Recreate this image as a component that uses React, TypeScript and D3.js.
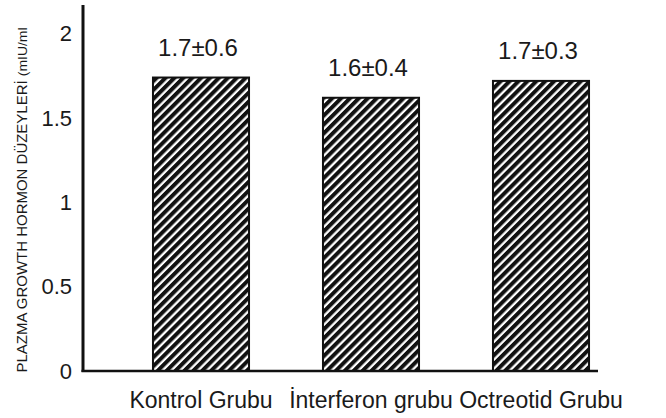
import React from 'react';
import * as d3 from 'd3';

const categories = ['Kontrol Grubu', 'İnterferon grubu', 'Octreotid Grubu'];
const values = [1.74, 1.62, 1.72];
const valueLabels = ['1.7±0.6', '1.6±0.4', '1.7±0.3'];
const yTicks = [0, 0.5, 1, 1.5, 2];
const yTitle = 'PLAZMA GROWTH HORMON DÜZEYLERİ ';
const yUnit = '(mIU/ml';

const W = 666;
const H = 418;
const FONT = '"Liberation Sans", Arial, Helvetica, sans-serif';

class App extends React.Component {
  myRef: any;
  constructor(props: any) {
    super(props);
    this.myRef = React.createRef();
    this.draw = this.draw.bind(this);
  }

  componentDidMount() {
    this.draw();
  }

  draw() {
    const root = d3.select(this.myRef.current);
    root.selectAll('*').remove();
    const svg = root
      .append('svg')
      .attr('width', W)
      .attr('height', H)
      .style('position', 'absolute')
      .style('left', 0)
      .style('top', 0)
      .style('background', '#fff')
      .style('font-family', FONT);

    // hatch fill
    const pat = svg
      .append('defs')
      .append('pattern')
      .attr('id', 'hatch')
      .attr('patternUnits', 'userSpaceOnUse')
      .attr('width', 6.3)
      .attr('height', 10)
      .attr('patternTransform', 'rotate(45)');
    pat.append('rect').attr('width', 6.3).attr('height', 10).attr('fill', '#fff');
    pat.append('rect').attr('width', 4).attr('height', 10).attr('fill', '#111');

    const axisX = 83;
    const baseY = 371;

    const x = d3
      .scaleBand()
      .domain(categories)
      .range([116, 626])
      .paddingInner(0.435)
      .paddingOuter(0.2175);

    const y = d3.scaleLinear().domain([0, 2.17]).range([baseY, 5]);

    // bars
    svg
      .append('g')
      .selectAll('rect')
      .data(categories)
      .join('rect')
      .attr('x', (d) => x(d))
      .attr('y', (d, i) => y(values[i]))
      .attr('width', x.bandwidth())
      .attr('height', (d, i) => y(0) - y(values[i]))
      .attr('fill', 'url(#hatch)')
      .attr('stroke', '#111')
      .attr('stroke-width', 2);

    // value labels
    svg
      .append('g')
      .selectAll('text')
      .data(categories)
      .join('text')
      .attr('x', (d) => x(d) + x.bandwidth() / 2 - 3)
      .attr('y', (d, i) => y(values[i]) - 22)
      .attr('text-anchor', 'middle')
      .style('font-size', '24px')
      .attr('fill', '#1a1a1a')
      .text((d, i) => valueLabels[i]);

    // y axis line + baseline
    svg
      .append('line')
      .attr('x1', axisX)
      .attr('x2', axisX)
      .attr('y1', y.range()[1])
      .attr('y2', baseY + 1)
      .attr('stroke', '#111')
      .attr('stroke-width', 3);
    svg
      .append('line')
      .attr('x1', axisX - 1.5)
      .attr('x2', 598)
      .attr('y1', baseY)
      .attr('y2', baseY)
      .attr('stroke', '#111')
      .attr('stroke-width', 2.5);

    // y tick labels (no tick marks in the original)
    svg
      .append('g')
      .selectAll('text')
      .data(yTicks)
      .join('text')
      .attr('x', 72)
      .attr('y', (d) => y(d))
      .attr('dy', '0.35em')
      .attr('text-anchor', 'end')
      .style('font-size', '22px')
      .attr('fill', '#1a1a1a')
      .text((d) => d3.format('~g')(d));

    // category labels
    svg
      .append('g')
      .selectAll('text')
      .data(categories)
      .join('text')
      .attr('x', (d) => x(d) + x.bandwidth() / 2)
      .attr('y', 408)
      .attr('text-anchor', 'middle')
      .style('font-size', '23px')
      .attr('fill', '#1a1a1a')
      .text((d) => d);

    // y title
    const t = svg
      .append('text')
      .attr('transform', 'translate(27,200) rotate(-90)')
      .attr('text-anchor', 'middle')
      .attr('textLength', 345)
      .attr('lengthAdjust', 'spacingAndGlyphs')
      .style('font-size', '14px')
      .attr('fill', '#1a1a1a');
    t.append('tspan').text(yTitle);
    t.append('tspan').style('font-size', '13px').text(yUnit);
  }

  render() {
    return <div ref={this.myRef}></div>;
  }
}

export default App;
